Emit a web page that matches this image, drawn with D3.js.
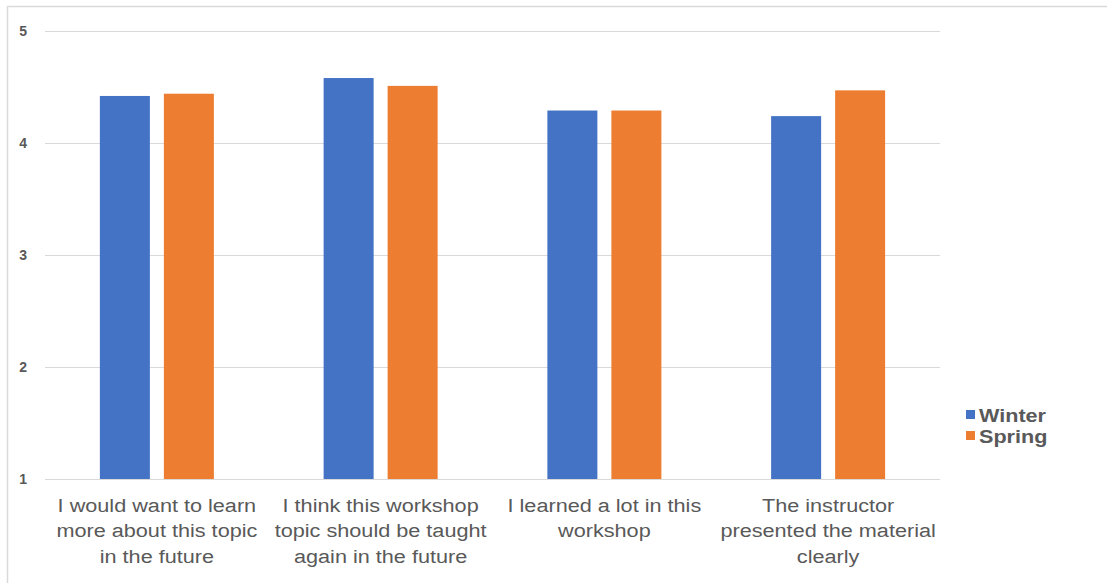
<!DOCTYPE html>
<html><head><meta charset="utf-8">
<script src="https://cdn.jsdelivr.net/npm/d3@7"></script>
<style>
body{margin:0;background:#fff;}
text{font-family:"Liberation Sans",Arial,Helvetica,sans-serif;}
</style></head>
<body><svg id="c" width="1107" height="583"></svg>
<script>
const categories = [
  ["I would want to learn","more about this topic","in the future"],
  ["I think this workshop","topic should be taught","again in the future"],
  ["I learned a lot in this","workshop"],
  ["The instructor","presented the material","clearly"]
];
const seriesNames = ["Winter","Spring"];
const winter = [4.42, 4.58, 4.29, 4.24];
const spring = [4.44, 4.51, 4.29, 4.47];
const yTicks = [1,2,3,4,5];
const colors = ["#4472c4","#ed7d31"];

(function(){
const svg = d3.select("#c");
// frame
svg.append("line").attr("x1",7).attr("x2",1107).attr("y1",6.5).attr("y2",6.5).attr("stroke","#d9d9d9").attr("stroke-width",1.5);
svg.append("line").attr("x1",7.5).attr("x2",7.5).attr("y1",6).attr("y2",583).attr("stroke","#d9d9d9").attr("stroke-width",1.5);

const mLeft=45, mRight=940, mTop=31, mBottom=479;
const x = d3.scaleBand().domain(d3.range(categories.length)).range([mLeft,mRight]).paddingInner(0).paddingOuter(0);
const y = d3.scaleLinear().domain([1,5]).range([mBottom,mTop]);

const yAxis = d3.axisLeft(y).tickValues(yTicks).tickSize(-(mRight-mLeft)).tickFormat(d3.format("d"));
const gy = svg.append("g").attr("transform",`translate(${mLeft},0)`).call(yAxis);
gy.select(".domain").remove();
gy.selectAll(".tick line").attr("stroke","#d9d9d9").attr("stroke-width",1);
gy.selectAll(".tick text").attr("x",-18).attr("fill","#595959").attr("font-size",14).attr("font-weight","bold");

const barW = 50, gap = 14;
const data = [winter, spring];
data.forEach((vals,si)=>{
  svg.append("g").selectAll("rect").data(vals).join("rect")
    .attr("x",(d,i)=>x(i)+x.bandwidth()/2 + (si===0 ? -(barW+gap/2) : gap/2))
    .attr("width",barW)
    .attr("y",d=>y(d))
    .attr("height",d=>y(1)-y(d))
    .attr("fill",colors[si]);
});

// category labels (horizontally stretched like the reference)
categories.forEach((lines,i)=>{
  const cx = x(i)+x.bandwidth()/2;
  const t = svg.append("text").attr("text-anchor","middle").attr("fill","#595959").attr("font-size",19)
    .attr("transform",`translate(${cx},0) scale(1.14,1)`);
  lines.forEach((l,j)=>{
    t.append("tspan").attr("x",0).attr("y",512+j*25.5).text(l);
  });
});

// legend
seriesNames.forEach((s,i)=>{
  const ly = 410 + i*21;
  svg.append("rect").attr("x",966).attr("y",ly).attr("width",9).attr("height",9).attr("fill",colors[i]);
  svg.append("text").attr("transform",`translate(979,${ly+11.5}) scale(1.2,1)`)
    .attr("font-size",18).attr("font-weight","bold").attr("fill","#595959").text(s);
});
})();
</script></body></html>
